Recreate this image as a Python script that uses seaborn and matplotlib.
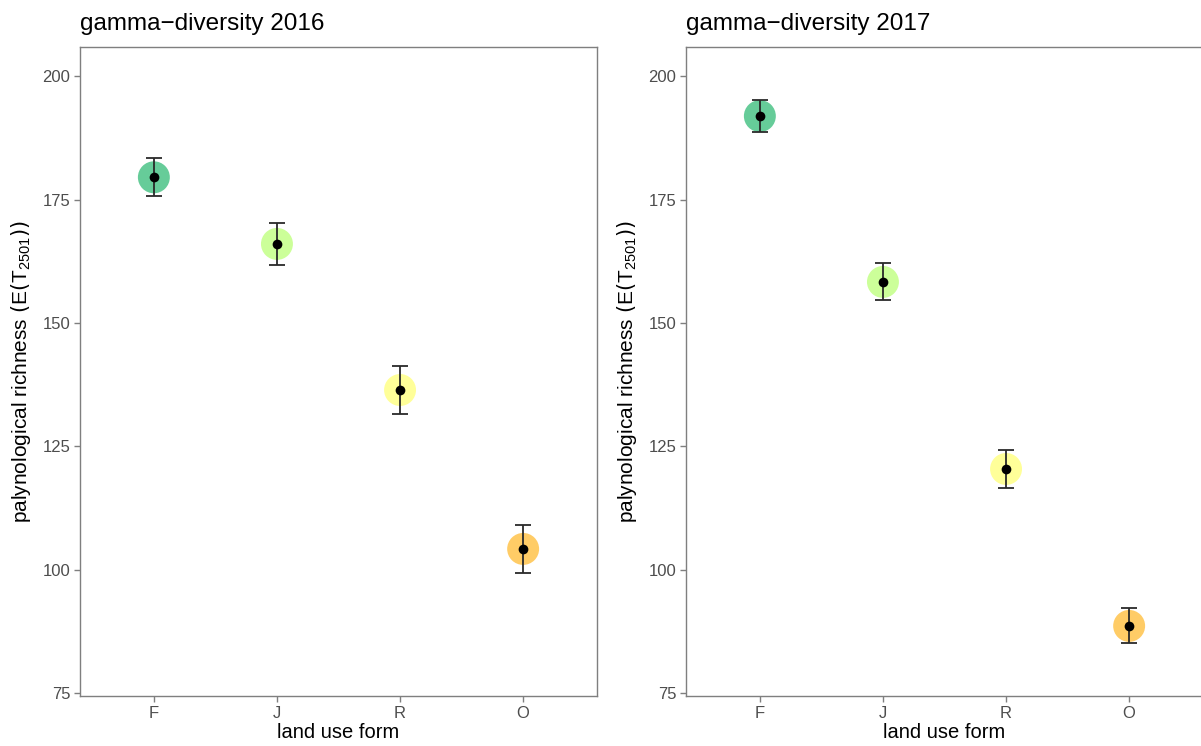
import matplotlib
matplotlib.use("Agg")
import matplotlib.pyplot as plt
import seaborn as sns
import pandas as pd

sns.set_theme(style="white")
plt.rcParams['font.family'] = ['Liberation Sans', 'DejaVu Sans']
plt.rcParams['mathtext.default'] = 'regular'

land_use = ["F", "J", "R", "O"]
colors = ["#66CC99", "#CCFF99", "#FFFF99", "#FFCC66"]

mean_2016 = [179.5, 166.0, 136.4, 104.2]
low_2016 = [175.7, 161.7, 131.5, 99.3]
high_2016 = [183.4, 170.2, 141.2, 109.0]

mean_2017 = [191.9, 158.3, 120.4, 88.6]
low_2017 = [188.7, 154.6, 116.5, 85.1]
high_2017 = [195.1, 162.1, 124.2, 92.2]

titles = ["gamma\u2212diversity 2016", "gamma\u2212diversity 2017"]
yticks = [75, 100, 125, 150, 175, 200]

fig = plt.figure(figsize=(12.01, 7.46), dpi=100)
W, H = 1201, 746
axes = [fig.add_axes([80 / W, 50 / H, 517 / W, 649 / H]),
        fig.add_axes([686 / W, 50 / H, 517 / W, 649 / H])]

datasets = [(mean_2016, low_2016, high_2016), (mean_2017, low_2017, high_2017)]
for ax, (m, lo, hi), title in zip(axes, datasets, titles):
    df = pd.DataFrame({"form": land_use, "mean": m, "low": lo, "high": hi})
    sns.scatterplot(data=df, x="form", y="mean", hue="form", palette=colors,
                    s=23 ** 2, linewidth=0, legend=False, ax=ax, zorder=2)
    pos = list(range(len(land_use)))
    ax.errorbar(pos, df["mean"], yerr=[df["mean"] - df["low"], df["high"] - df["mean"]],
                fmt="none", ecolor="#2A2A2A", elinewidth=1.3, capsize=6, capthick=1.3, zorder=3)
    sns.scatterplot(data=df, x="form", y="mean", color="black", s=7 ** 2,
                    linewidth=0, legend=False, ax=ax, zorder=4)
    ax.set_xlim(-0.6, 3.6)
    ax.set_ylim(74.4, 205.9)
    ax.set_yticks(yticks)
    ax.set_xticks(pos)
    ax.set_xticklabels(land_use)
    for s in ax.spines.values():
        s.set_color("#7F7F7F")
        s.set_linewidth(1.0)
    ax.tick_params(axis="both", which="both", length=4, width=1, color="#7F7F7F",
                   labelcolor="#4D4D4D", labelsize=12, direction="out",
                   left=True, bottom=True, pad=3)
    ax.set_xlabel("land use form", fontsize=14.5, color="black", labelpad=2)
    ax.set_ylabel(r"palynological richness $\left(E\left(T_{2501}\right)\right)$",
                  fontsize=15, color="black", labelpad=7)
    ax.set_title(title, loc="left", fontsize=17.5, color="black", pad=12)
    ax.grid(False)

fig.savefig("out.png", dpi=100)
